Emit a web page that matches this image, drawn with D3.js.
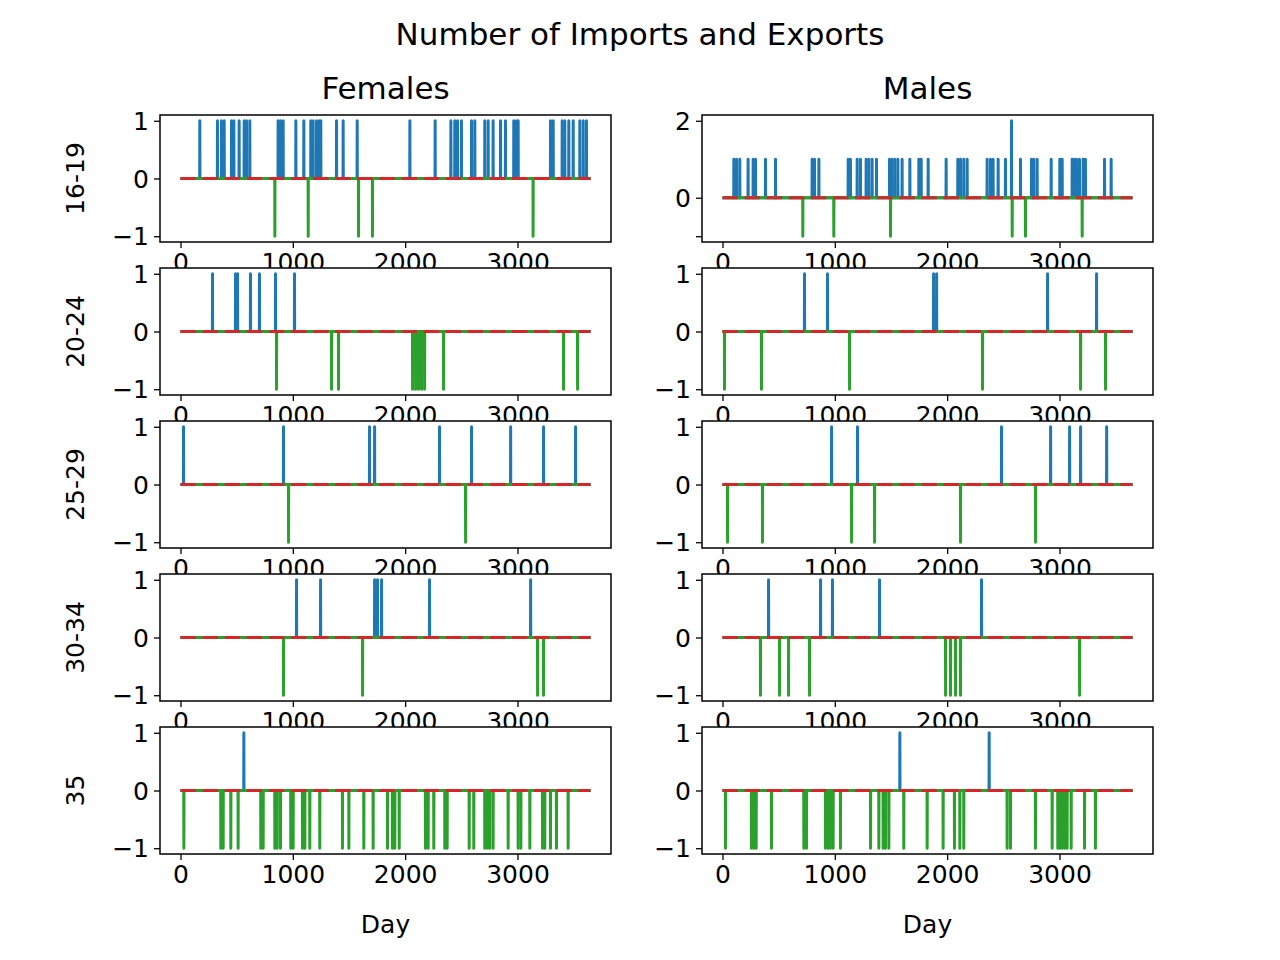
<!DOCTYPE html>
<html><head><meta charset="utf-8">
<script src="https://cdn.jsdelivr.net/npm/d3@7"></script>
<style>body{margin:0;background:#fff}svg{font-family:"DejaVu Sans",sans-serif}</style>
</head><body><svg id="c" width="1280" height="960"></svg>
<script>
const ageGroups = ["16-19","20-24","25-29","30-34","35"];
const sexes = ["Females","Males"];
const xTicks = [0,1000,2000,3000];
const nDays = 3650;
const femaleImports = [
 [172,329,365,389,454,475,522,567,588,617,869,890,914,1027,1098,1160,1181,1211,1234,1249,1389,1448,1573,2042,2267,2407,2442,2466,2501,2591,2620,2709,2739,2783,2849,2893,2967,2991,3006,3294,3318,3398,3421,3457,3496,3555,3585,3614],
 [285,490,508,623,703,846,1015],
 [27,917,1683,1728,2306,2591,2939,3232,3517],
 [1033,1247,1728,1754,1790,2217,3117],
 [564]
];
const femaleExports = [
 [840,1137,1585,1709,3139],
 [855,1345,1407,2066,2093,2119,2146,2173,2342,3410,3535],
 [962,2538],
 [917,1621,3179,3232],
 [30,359,380,448,513,715,736,840,861,890,982,1003,1086,1107,1151,1240,1442,1499,1632,1715,1843,1887,1908,1947,2181,2205,2255,2353,2374,2570,2611,2709,2733,2754,2783,2917,3006,3030,3110,3223,3243,3294,3347,3451]
];
const maleImports = [
 [101,125,154,228,273,294,383,472,798,819,858,1119,1139,1199,1228,1279,1303,1332,1371,1487,1510,1534,1561,1599,1668,1748,1769,1831,1991,2095,2119,2148,2178,2356,2386,2409,2454,2519,2653,2751,2772,2801,2926,3003,3024,3113,3128,3151,3178,3211,3231,3401,3460],
 [730,935,1879,1906,2894,3330],
 [971,1202,2484,2921,3090,3188,3420],
 [410,873,979,1398,2306],
 [1579,2374]
];
const maleImportsTwo = [[2573],[],[],[],[]];
const maleExports = [
 [715,991,1496,2579,2697,3202],
 [18,347,1131,2315,3188,3410],
 [45,356,1149,1354,2119,2787],
 [338,508,588,775,1986,2030,2075,2119,3179],
 [27,258,279,300,436,724,748,917,941,961,985,1050,1318,1392,1430,1451,1481,1614,1822,1964,2065,2113,2148,2534,2564,2786,2935,2985,3003,3024,3045,3068,3104,3223,3320]
];
const yDomains = [[[-1,1],[-1,2]],[[-1,1],[-1,1]],[[-1,1],[-1,1]],[[-1,1],[-1,1]],[[-1,1],[-1,1]]];
const yTicks = [[[-1,0,1],[-1,0,2]],[[-1,0,1],[-1,0,1]],[[-1,0,1],[-1,0,1]],[[-1,0,1],[-1,0,1]],[[-1,0,1],[-1,0,1]]];

const svg = d3.select("#c");
const colLeft = [160,702], colW = 451;
const rowTop = [115,268,421,574,727], rowH = 127;
const BLUE="#1f77b4", GREEN="#2ca02c", RED="#d62728";
const FS=25;

svg.append("text").attr("x",640).attr("y",45).attr("text-anchor","middle").attr("font-size",31).text("Number of Imports and Exports");

for(let r=0;r<5;r++){
 for(let c=0;c<2;c++){
  const x0=colLeft[c], y0=rowTop[r];
  const x=d3.scaleLinear().domain([-nDays*0.05,nDays*1.05]).range([x0,x0+colW]);
  const [lo,hi]=yDomains[r][c]; const m=(hi-lo)*0.05;
  const y=d3.scaleLinear().domain([lo-m,hi+m]).range([y0+rowH,y0]);
  const g=svg.append("g");
  g.append("rect").attr("x",x0).attr("y",y0).attr("width",colW).attr("height",rowH).attr("fill","#fff");
  const imp = c===0?femaleImports[r]:maleImports[r];
  const two = c===0?[]:maleImportsTwo[r];
  const exp = c===0?femaleExports[r]:maleExports[r];
  const base = d3.line().x(d=>x(d[0])).y(d=>y(d[1]));
  g.append("path").attr("d",base([[0,0],[nDays,0]])).attr("stroke",BLUE).attr("stroke-width",3).attr("fill","none");
  const spikes=(arr,val,col)=>g.selectAll(null).data(arr).enter().append("path")
   .attr("d",d=>base([[d-1,0],[d,val],[d+1,0]])).attr("stroke",col).attr("stroke-width",3).attr("fill","none").attr("stroke-linejoin","round").attr("stroke-linecap","round");
  spikes(imp,1,BLUE); spikes(two,2,BLUE);
  g.append("path").attr("d",base([[0,0],[nDays,0]])).attr("stroke",GREEN).attr("stroke-width",3).attr("fill","none");
  spikes(exp,-1,GREEN);
  g.append("path").attr("d",base([[0,0],[nDays,0]])).attr("stroke",RED).attr("stroke-width",3).attr("stroke-dasharray","15.4,6.7").attr("fill","none");
  g.append("rect").attr("x",x0).attr("y",y0).attr("width",colW).attr("height",rowH).attr("fill","none").attr("stroke","#000").attr("stroke-width",1.5);
  const xa=g.append("g").attr("transform",`translate(0,${y0+rowH})`).call(d3.axisBottom(x).tickValues(xTicks).tickFormat(d3.format("d")).tickSize(6).tickPadding(5));
  const ya=g.append("g").attr("transform",`translate(${x0},0)`).call(d3.axisLeft(y).tickValues(yTicks[r][c]).tickFormat(d3.format("d")).tickSize(6).tickPadding(5));
  [xa,ya].forEach(a=>{a.select(".domain").remove();a.attr("font-size",FS);a.selectAll("text").attr("font-size",FS).attr("fill","#000").attr("font-family","DejaVu Sans");a.selectAll("line").attr("stroke","#000").attr("stroke-width",1.3);});
  ya.selectAll("text").text(d=>d<0?"\u22121":d).attr("dy","0.35em");
  if(c===1 && r===0) ya.selectAll(".tick").filter(d=>d<0).select("text").remove();
  if(c===0) svg.append("text").attr("transform",`translate(84,${y0+rowH/2}) rotate(-90)`).attr("text-anchor","middle").attr("font-size",FS).text(ageGroups[r]);
 }
}
sexes.forEach((s,c)=>{
 svg.append("text").attr("x",colLeft[c]+colW/2).attr("y",99).attr("text-anchor","middle").attr("font-size",31).text(s);
 svg.append("text").attr("x",colLeft[c]+colW/2).attr("y",933).attr("text-anchor","middle").attr("font-size",FS).text("Day");
});
</script></body></html>
